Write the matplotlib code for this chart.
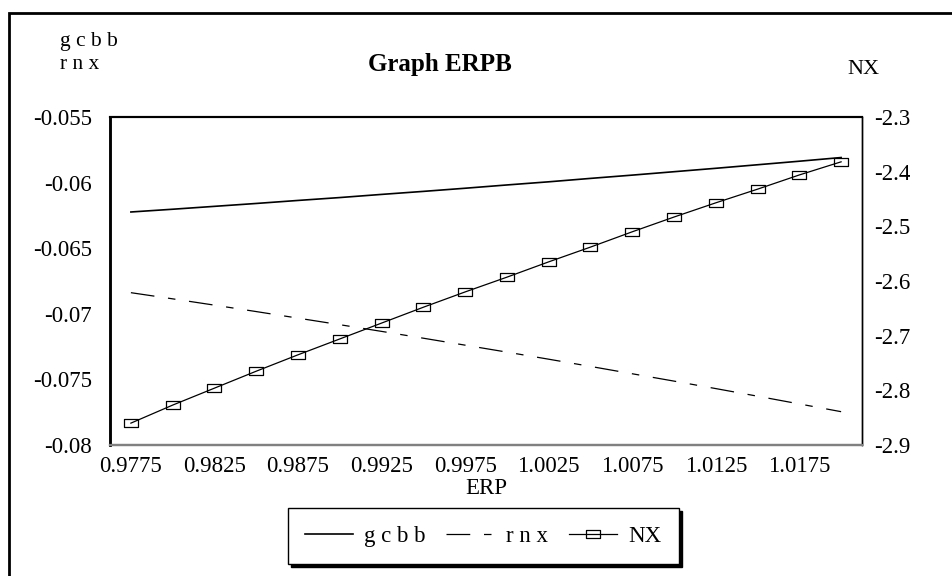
import matplotlib.pyplot as plt
from matplotlib.path import Path
from matplotlib.patches import Rectangle
import numpy as np

plt.rcParams['font.family'] = ['Liberation Serif', 'DejaVu Serif']

# ERP categories and the three series
erp = ['0.9775', '0.98', '0.9825', '0.985', '0.9875', '0.99', '0.9925', '0.995', '0.9975',
       '1', '1.0025', '1.005', '1.0075', '1.01', '1.0125', '1.015', '1.0175', '1.02']
gcbb = [-0.06224, -0.06203, -0.06181, -0.06159, -0.06136, -0.06114, -0.06090, -0.06067, -0.06043,
        -0.06018, -0.05994, -0.05968, -0.05943, -0.05917, -0.05891, -0.05864, -0.05837, -0.05809]
rnx = [-0.06839, -0.06886, -0.06934, -0.06983, -0.07033, -0.07083, -0.07134, -0.07186, -0.07239,
       -0.07292, -0.07346, -0.07401, -0.07457, -0.07513, -0.07570, -0.07628, -0.07687, -0.07746]
nx = [-2.860, -2.827, -2.796, -2.765, -2.735, -2.706, -2.677, -2.648, -2.620,
      -2.593, -2.565, -2.538, -2.510, -2.483, -2.457, -2.432, -2.406, -2.382]
xticklab = ['0.9775', '0.9825', '0.9875', '0.9925', '0.9975', '1.0025', '1.0075', '1.0125', '1.0175']

W, H = 953, 576
fs = 16.5
fig = plt.figure(figsize=(W / 100, H / 100), dpi=100)

# outer chart frame (runs off the right/bottom edge)
fig.patches.append(Rectangle((9 / W, -0.1), 1.2, 1 - 13 / H + 0.1, transform=fig.transFigure,
                             fill=False, edgecolor='k', linewidth=2))

ax = fig.add_axes([110 / W, 1 - 445 / H, (862 - 110) / W, (445 - 117) / H])
ax2 = ax.twinx()

x = np.arange(len(erp))
l1, = ax.plot(x, gcbb, color='k', linewidth=1.2, label='g c b b')
l2, = ax.plot(x, rnx, color='k', linewidth=0.9, dashes=(19, 11, 6, 11), label='r n x')

rect = Path([(-1, -0.55), (1, -0.55), (1, 0.55), (-1, 0.55), (-1, -0.55)],
            [Path.MOVETO, Path.LINETO, Path.LINETO, Path.LINETO, Path.CLOSEPOLY])
l3, = ax2.plot(x, nx, color='k', linewidth=0.9, marker=rect, markersize=10.5,
               markerfacecolor='none', markeredgewidth=0.9, label='NX')

ax.set_xlim(-0.5, len(erp) - 0.5)
ax.set_ylim(-0.08, -0.055)
ax.set_yticks(np.arange(-0.08, -0.0549, 0.005))
ax.set_yticklabels(['-0.08', '-0.075', '-0.07', '-0.065', '-0.06', '-0.055'])
ax2.set_ylim(-2.9, -2.3)
ax2.set_yticks(np.arange(-2.9, -2.29, 0.1))
ax2.set_yticklabels(['-2.9', '-2.8', '-2.7', '-2.6', '-2.5', '-2.4', '-2.3'])
ax.set_xticks(x[::2])
ax.set_xticklabels(xticklab)

for a in (ax, ax2):
    a.tick_params(length=0, labelsize=fs)
ax.tick_params(axis='y', pad=13)
ax.tick_params(axis='x', pad=8)
ax2.tick_params(pad=9)

for a in (ax, ax2):
    a.spines['left'].set_linewidth(1.8)
    a.spines['top'].set_linewidth(1.5)
    a.spines['right'].set_linewidth(1.0)
    a.spines['bottom'].set_color('#808080')
    a.spines['bottom'].set_linewidth(1.6)

ax.set_xlabel('ERP', fontsize=fs, labelpad=1)

fig.text(440 / W, 1 - 64 / H, 'Graph ERPB', fontsize=18, fontweight='bold', ha='center', va='center')
fig.text(60 / W, 1 - 53 / H, 'g c b b\nr n x', fontsize=15.5, ha='left', va='center', linespacing=1.35)
fig.text(863 / W, 1 - 70 / H, 'NX', fontsize=16, ha='center', va='center')

leg = fig.legend(handles=[l1, l2, l3], loc='center', bbox_to_anchor=(483 / W, 1 - 536 / H),
                 ncol=3, fontsize=fs, frameon=True, fancybox=False, handlelength=2.1,
                 columnspacing=0.9, handletextpad=0.5, borderpad=0.75, borderaxespad=0,
                 shadow={'color': 'black', 'alpha': 1.0, 'ox': 2.2, 'oy': -2.2})
leg.get_frame().set_edgecolor('k')
leg.get_frame().set_linewidth(1.0)

fig.savefig('out.png', dpi=100)
